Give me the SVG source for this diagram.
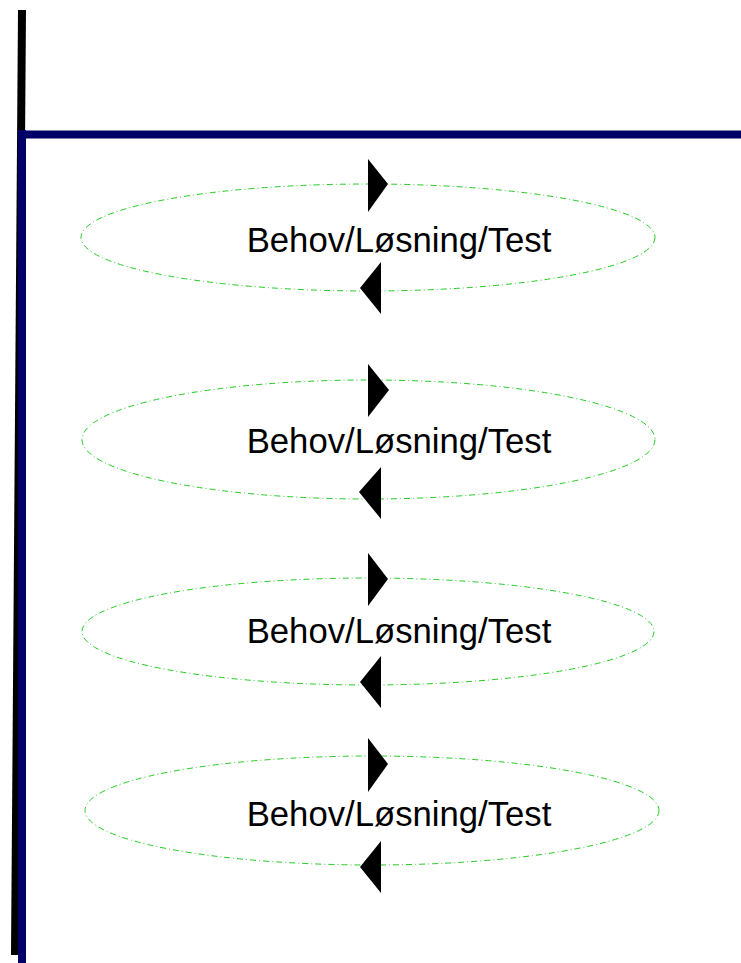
<svg xmlns="http://www.w3.org/2000/svg" width="741" height="963" viewBox="0 0 741 963">
  <style>
    .cycle { fill: none; stroke: #22cc22; stroke-width: 1; stroke-dasharray: 6 3 1 3; }
    .label { font-family: "Liberation Sans", Arial, sans-serif; font-size: 34.7px; fill: #000; text-anchor: middle; }
    .head { fill: #000; stroke: none; }
    .lane { fill: none; stroke: #000066; stroke-width: 8; }
  </style>
  <rect width="741" height="963" fill="#fff"/>
  <g id="frame">
    <line x1="22" y1="10" x2="15" y2="955" stroke="#000" stroke-width="8"/>
    <line class="lane" x1="22" y1="130" x2="22" y2="963"/>
    <line class="lane" x1="18" y1="134.5" x2="741" y2="134.5"/>
  </g>
  <g id="node1">
    <ellipse class="cycle" cx="368" cy="237.5" rx="287" ry="53.5"/>
    <text class="label" x="399" y="252">Behov/Løsning/Test</text>
  </g>
  <g id="node2">
    <ellipse class="cycle" cx="368.5" cy="439.5" rx="286.5" ry="59.5"/>
    <text class="label" x="399" y="453">Behov/Løsning/Test</text>
  </g>
  <g id="node3">
    <ellipse class="cycle" cx="368" cy="631.5" rx="286" ry="53.5"/>
    <text class="label" x="399" y="643">Behov/Løsning/Test</text>
  </g>
  <g id="node4">
    <ellipse class="cycle" cx="372" cy="810.5" rx="287" ry="54.5"/>
    <text class="label" x="399" y="826">Behov/Løsning/Test</text>
  </g>
  <g id="connectors">
    <polygon class="head" points="368,159 368,212 388,184"/>
    <polygon class="head" points="381,262 381,314 360,288"/>
    <polygon class="head" points="368,364 368,417 389,390"/>
    <polygon class="head" points="381,467 381,519 359,492"/>
    <polygon class="head" points="368,553 368,606 388,579"/>
    <polygon class="head" points="381,656 381,708 360,682"/>
    <polygon class="head" points="368,738 368,792 388,764"/>
    <polygon class="head" points="381,841 381,893 360,867"/>
  </g>
</svg>
